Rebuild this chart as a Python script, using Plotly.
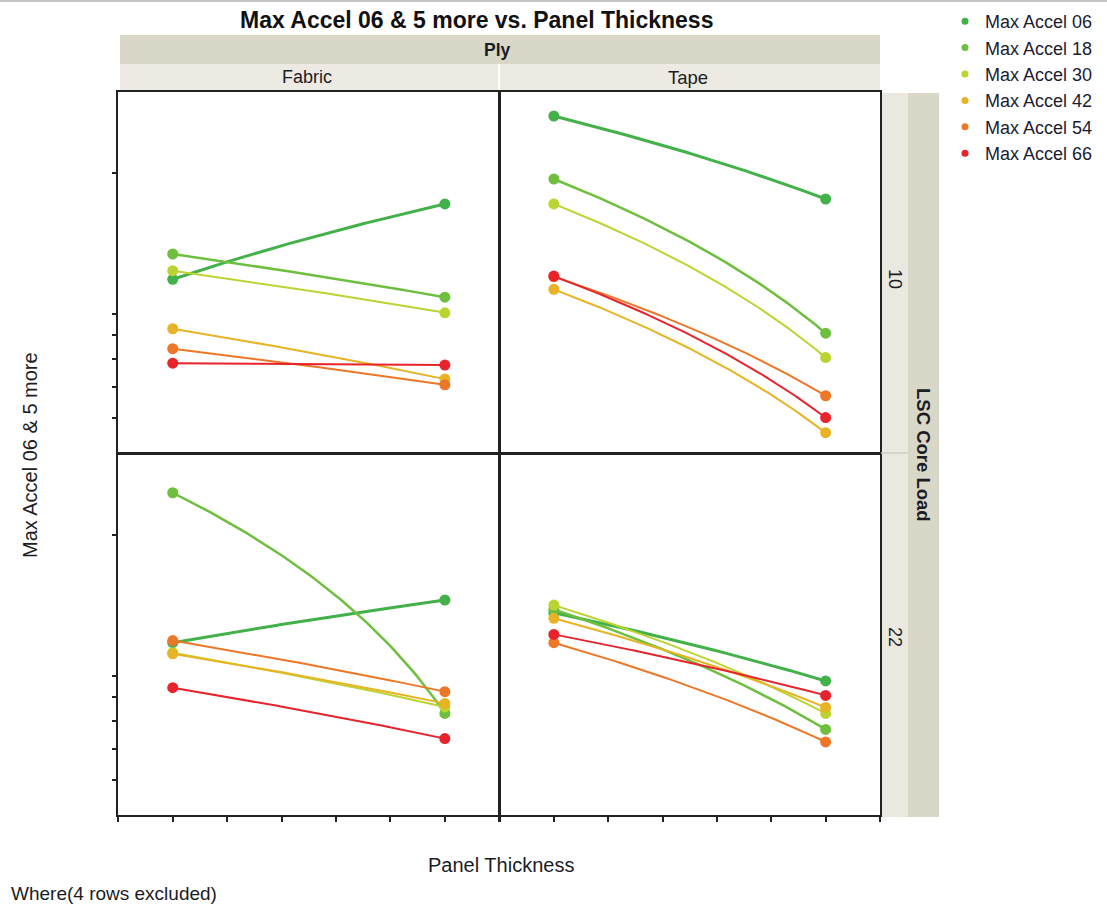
import numpy as np
import plotly.graph_objects as go

# ---- data ---------------------------------------------------------------
series_names = ["Max Accel 06", "Max Accel 18", "Max Accel 30",
                "Max Accel 42", "Max Accel 54", "Max Accel 66"]
series_colors = ["#43b14a", "#6fbf3f", "#bcd431", "#e8b324", "#ee7627", "#e8232b"]
line_widths = [3, 2.5, 2, 2, 2, 2]

thickness = [0.5, 1.0]                     # two Panel Thickness levels
x_tick_vals = [0.4, 0.5, 0.6, 0.7, 0.8, 0.9, 1.0, 1.1]
y_tick_vals = [5, 6, 7, 8, 9, 10, 20]

ply_levels = ["Fabric", "Tape"]
load_levels = ["10", "22"]

# values at the thin / thick panel, one entry per series (06 ... 66)
fabric_10_thin = [11.86, 13.43, 12.37, 9.30, 8.43, 7.85]
fabric_10_thick = [17.18, 10.86, 10.06, 7.26, 7.06, 7.78]
tape_10_thin = [26.47, 19.42, 17.18, 11.29, 12.01, 12.05]
tape_10_thick = [17.60, 9.10, 8.07, 5.58, 6.69, 6.01]
fabric_22_thin = [11.78, 24.62, 11.21, 11.15, 11.90, 9.44]
fabric_22_thick = [14.53, 8.32, 8.59, 8.74, 9.26, 7.35]
tape_22_thin = [13.65, 13.88, 14.17, 13.28, 11.78, 12.27]
tape_22_thick = [9.76, 7.69, 8.32, 8.57, 7.23, 9.09]

# ---- page geometry --------------------------------------------------------
W, H = 1107, 904


def px(x):
    return x / W


def py(y):
    return 1 - y / H


FONT = "Liberation Sans, Arial, sans-serif"
TXT = "#1c1c24"
Y_RANGE = [0.7032, 1.4740]                 # log10 of the visible value span

panels = [
    # (thin values, thick values, axis suffix, x domain px, y domain px, left col, bottom row)
    (fabric_10_thin, fabric_10_thick, "", (118.3, 499.3), (92, 453), True, False),
    (tape_10_thin, tape_10_thick, "2", (499.5, 880), (92, 453), False, False),
    (fabric_22_thin, fabric_22_thick, "3", (118.3, 499.3), (454, 815), True, True),
    (tape_22_thin, tape_22_thick, "4", (499.5, 880), (454, 815), False, True),
]


def connector(x0, x1, y0, y1, n=80):
    # straight connector in data units; it bends once mapped onto the log axis
    t = np.linspace(0.0, 1.0, n)
    return x0 + (x1 - x0) * t, y0 + (y1 - y0) * t


fig = go.Figure()

for thin, thick, suf, xd, yd, left, bottom in panels:
    xa, ya = "x" + suf, "y" + suf
    for i, name in enumerate(series_names):
        lx, ly = connector(thickness[0], thickness[1], thin[i], thick[i])
        fig.add_trace(go.Scatter(
            x=lx, y=ly, xaxis=xa, yaxis=ya, mode="lines",
            line=dict(color=series_colors[i], width=line_widths[i]),
            showlegend=False, hoverinfo="skip"))
        fig.add_trace(go.Scatter(
            x=thickness, y=[thin[i], thick[i]], xaxis=xa, yaxis=ya,
            mode="markers", name=name,
            marker=dict(color=series_colors[i], size=11),
            showlegend=False))

    axis_common = dict(showline=True, linecolor="#222222", linewidth=1.5,
                       mirror=True, showgrid=False, zeroline=False,
                       showticklabels=False)
    fig.layout["xaxis" + suf] = dict(
        axis_common, domain=[px(xd[0]), px(xd[1])], range=[0.4, 1.1],
        anchor=ya, tickmode="array", tickvals=x_tick_vals,
        ticks="outside" if bottom else "", ticklen=5, tickwidth=1.5,
        tickcolor="#222222")
    fig.layout["yaxis" + suf] = dict(
        axis_common, domain=[py(yd[1]), py(yd[0])], type="log", range=Y_RANGE,
        anchor=xa, tickmode="array", tickvals=y_tick_vals,
        ticks="outside" if left else "", ticklen=5, tickwidth=1.5,
        tickcolor="#222222")

# legend entries: plain dots
for i, name in enumerate(series_names):
    fig.add_trace(go.Scatter(
        x=[None], y=[None], mode="markers", name=name, legendgroup=name,
        marker=dict(color=series_colors[i], size=7), showlegend=True))

shapes = []
# thin rule across the top of the page
shapes.append(dict(type="line", xref="paper", yref="paper",
                   x0=0, x1=1, y0=py(1), y1=py(1),
                   line=dict(color="#c4c4c4", width=2)))
# "Ply" header band
shapes.append(dict(type="rect", xref="paper", yref="paper",
                   x0=px(120), x1=px(880), y0=py(64), y1=py(35),
                   fillcolor="#d9d7c8", line=dict(width=0), layer="below"))
# Fabric / Tape header cells
shapes.append(dict(type="rect", xref="paper", yref="paper",
                   x0=px(120), x1=px(498), y0=py(91), y1=py(64),
                   fillcolor="#eceae2", line=dict(width=0), layer="below"))
shapes.append(dict(type="rect", xref="paper", yref="paper",
                   x0=px(500), x1=px(880), y0=py(91), y1=py(64),
                   fillcolor="#eceae2", line=dict(width=0), layer="below"))
# right-hand strip: level column and the group column
shapes.append(dict(type="rect", xref="paper", yref="paper",
                   x0=px(881), x1=px(908), y0=py(817), y1=py(93),
                   fillcolor="#eae8df", line=dict(width=0), layer="below"))
shapes.append(dict(type="line", xref="paper", yref="paper",
                   x0=px(881), x1=px(908), y0=py(453), y1=py(453),
                   line=dict(color="#d2d0c4", width=1.5)))
shapes.append(dict(type="rect", xref="paper", yref="paper",
                   x0=px(908), x1=px(939), y0=py(817), y1=py(93),
                   fillcolor="#d9d7c8", line=dict(width=0), layer="below"))

annotations = [
    dict(text="<b>Max Accel 06 &amp; 5 more vs. Panel Thickness</b>",
         x=px(476), y=py(20), font=dict(size=23, color="#111111")),
    dict(text="<b>Ply</b>", x=px(497), y=py(50), font=dict(size=17.5, color=TXT)),
    dict(text=ply_levels[0], x=px(307), y=py(77), font=dict(size=18, color=TXT)),
    dict(text=ply_levels[1], x=px(688), y=py(77), font=dict(size=18.5, color=TXT)),
    dict(text=load_levels[0], x=px(895), y=py(279), textangle=90,
         font=dict(size=18, color=TXT)),
    dict(text=load_levels[1], x=px(895), y=py(637), textangle=90,
         font=dict(size=18, color=TXT)),
    dict(text="<b>LSC Core Load</b>", x=px(924), y=py(455), textangle=90,
         font=dict(size=18.5, color=TXT)),
    dict(text="Max Accel 06 &amp; 5 more", x=px(30), y=py(455), textangle=-90,
         font=dict(size=20, color=TXT)),
    dict(text="Panel Thickness", x=px(501), y=py(865),
         font=dict(size=20, color=TXT)),
    dict(text="Where(4 rows excluded)", x=px(9), y=py(893), xanchor="left",
         font=dict(size=19, color=TXT)),
]
for a in annotations:
    a.update(xref="paper", yref="paper", showarrow=False)
    a.setdefault("xanchor", "center")
    a.setdefault("yanchor", "middle")

fig.update_layout(
    width=W, height=H,
    margin=dict(l=0, r=0, t=0, b=0),
    paper_bgcolor="white", plot_bgcolor="white",
    font=dict(family=FONT, color=TXT),
    shapes=shapes, annotations=annotations,
    legend=dict(x=px(945), y=py(3), xanchor="left", yanchor="top",
                font=dict(size=18, color="#1c1c30"), itemsizing="trace",
                tracegroupgap=0, bgcolor="rgba(0,0,0,0)"),
)

fig.write_html("out.html")
